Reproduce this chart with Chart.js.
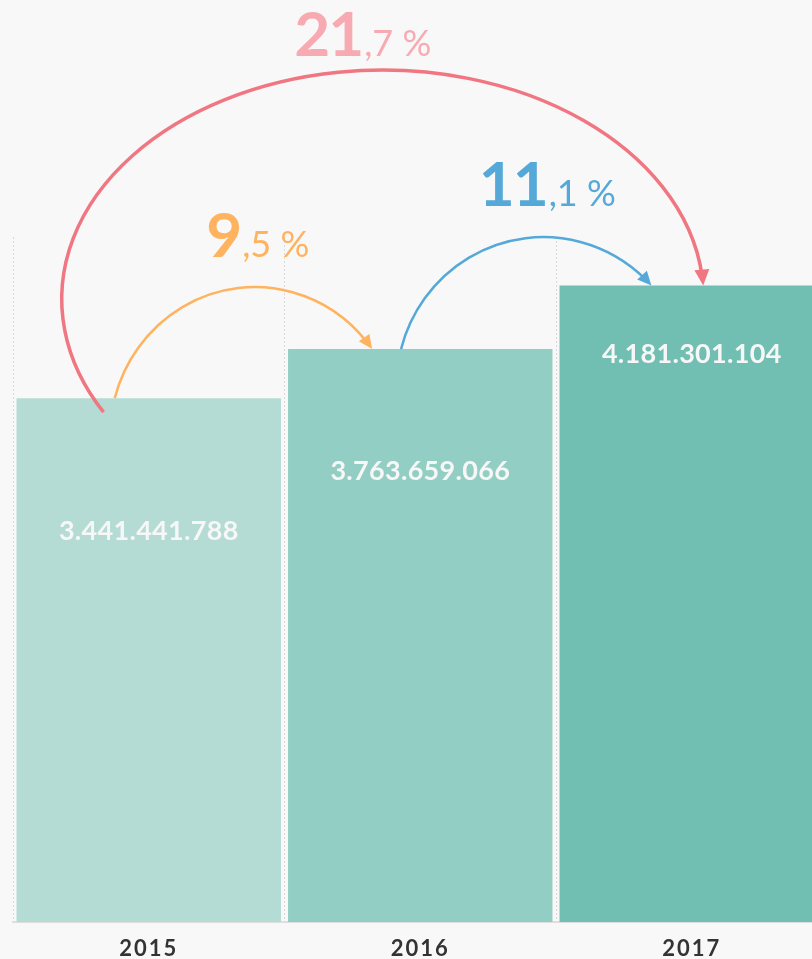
<!DOCTYPE html>
<html>
<head>
<meta charset="utf-8">
<script src="https://cdn.jsdelivr.net/npm/chart.js@4.4.1/dist/chart.umd.min.js"></script>
<style>
  html, body { margin: 0; padding: 0; background: #f8f8f8; overflow: hidden; }
  #wrap { width: 812px; height: 959px; overflow: hidden; }
  canvas { display: block; }
</style>
</head>
<body>
<div id="wrap"><canvas id="growthChart" width="830" height="976"></canvas></div>
<script>
// data
const years = ['2015', '2016', '2017'];
const totals = [3441441788, 3763659066, 4181301104];
const barColors = ['#b4dcd4', '#93cec4', '#71bfb2'];
const yMax = 4500000000;

// growth arrows (from bar index -> to bar index)
const growthFrom = [0, 1, 0];
const growthTo = [1, 2, 2];
const growthWhole = ['9', '11', '21'];
const growthDecimal = [',5 %', ',1 %', ',7 %'];

const FONT = 'Lato, "Open Sans", sans-serif';

// look of each arrow: ellipse centre relative to the "from" bar top, radii, etc.
const arrowStyles = [
  { color: '#ffb35e', text: '#ffb35e', dx: 106, dy: 39, rx: 145, ry: 150, startDy: 0, lw: 2.5, head: 14, hw: 6.5, labelDx: 2, labelGap: 30 },
  { color: '#55a9d8', text: '#55a9d8', dx: 123, dy: 38, rx: 147, ry: 150, startDy: 0, lw: 2.5, head: 14, hw: 6.5, labelDx: 3, labelGap: 31 },
  { color: '#f07681', text: '#f7aab1', dx: 234, dy: -99, rx: 321, ry: 229, startDy: 14, lw: 3.5, head: 16, hw: 7.5, labelDx: -21, labelGap: 14 }
];
// vertical offset of value labels below the bar top
const valueLabelDy = [133, 122, 69];

const fmt = (n) => n.toLocaleString('de-DE');

const growthArrows = {
  id: 'growthArrows',
  beforeDraw(chart) {
    chart.ctx.letterSpacing = '2px';
  },
  beforeDatasetsDraw(chart) {
    chart.ctx.letterSpacing = '0px';
  },
  afterDatasetsDraw(chart) {
    const ctx = chart.ctx;
    const bars = chart.getDatasetMeta(0).data;

    // value labels inside bars
    ctx.save();
    ctx.font = 'bold 27px ' + FONT;
    ctx.letterSpacing = '0.3px';
    ctx.fillStyle = '#f7f7f7';
    ctx.textAlign = 'center';
    ctx.textBaseline = 'middle';
    bars.forEach((bar, i) => {
      ctx.fillText(fmt(totals[i]), bar.x, bar.y + valueLabelDy[i]);
    });
    ctx.restore();

    growthFrom.forEach((from, i) => {
      const s = arrowStyles[i];
      const a = bars[from];
      const b = bars[growthTo[i]];
      const cx = a.x + s.dx;
      const cy = a.y + s.dy;
      const t0 = Math.PI - Math.asin((a.y + s.startDy - cy) / s.ry);
      const t1 = 2 * Math.PI + Math.asin((b.y - cy) / s.ry);

      // end point and tangent
      const ex = cx + s.rx * Math.cos(t1);
      const ey = cy + s.ry * Math.sin(t1);
      let tx = -s.rx * Math.sin(t1);
      let ty = s.ry * Math.cos(t1);
      const tl = Math.hypot(tx, ty);
      tx /= tl; ty /= tl;
      const cut = (s.head * 0.6) / tl;

      ctx.save();
      ctx.strokeStyle = s.color;
      ctx.fillStyle = s.color;
      ctx.lineWidth = s.lw;
      ctx.beginPath();
      ctx.ellipse(cx, cy, s.rx, s.ry, 0, t0, t1 - cut, false);
      ctx.stroke();

      const bx = ex - tx * s.head;
      const by = ey - ty * s.head;
      ctx.beginPath();
      ctx.moveTo(ex, ey);
      ctx.lineTo(bx - ty * s.hw, by + tx * s.hw);
      ctx.lineTo(bx + ty * s.hw, by - tx * s.hw);
      ctx.closePath();
      ctx.fill();

      // percentage label: big whole part, small decimal part
      const bigFont = 'bold 62px ' + FONT;
      const smallFont = '36px ' + FONT;
      ctx.font = bigFont;
      ctx.letterSpacing = '-2px';
      const wBig = ctx.measureText(growthWhole[i]).width;
      ctx.font = smallFont;
      ctx.letterSpacing = '0px';
      const wSmall = ctx.measureText(growthDecimal[i]).width;
      const lx = cx + s.labelDx - (wBig + wSmall) / 2;
      const ly = cy - s.ry - s.labelGap;
      ctx.fillStyle = s.text;
      ctx.textAlign = 'left';
      ctx.textBaseline = 'alphabetic';
      ctx.font = bigFont;
      ctx.letterSpacing = '-2px';
      ctx.fillText(growthWhole[i], lx, ly);
      ctx.font = smallFont;
      ctx.letterSpacing = '0px';
      ctx.fillText(growthDecimal[i], lx + wBig + 2, ly);
      ctx.restore();
    });
  }
};

new Chart(document.getElementById('growthChart'), {
  type: 'bar',
  data: {
    labels: years,
    datasets: [{
      data: totals,
      backgroundColor: barColors,
      borderWidth: 0,
      categoryPercentage: 1,
      barPercentage: 0.974
    }]
  },
  options: {
    responsive: false,
    animation: false,
    layout: { padding: { left: 13, right: 2.5, top: 237, bottom: 0 } },
    plugins: {
      legend: { display: false },
      tooltip: { enabled: false }
    },
    scales: {
      x: {
        offset: true,
        grid: { display: true, offset: true, drawTicks: false, color: '#d9d9d9', lineWidth: 1 },
        border: { display: true, color: '#dedede', width: 2, dash: [2, 2] },
        ticks: {
          color: '#333333',
          padding: 16,
          font: { family: FONT, size: 22, weight: 'bold', lineHeight: 1 }
        }
      },
      y: {
        display: false,
        min: 0,
        max: yMax
      }
    }
  },
  plugins: [growthArrows]
});
</script>
</body>
</html>
